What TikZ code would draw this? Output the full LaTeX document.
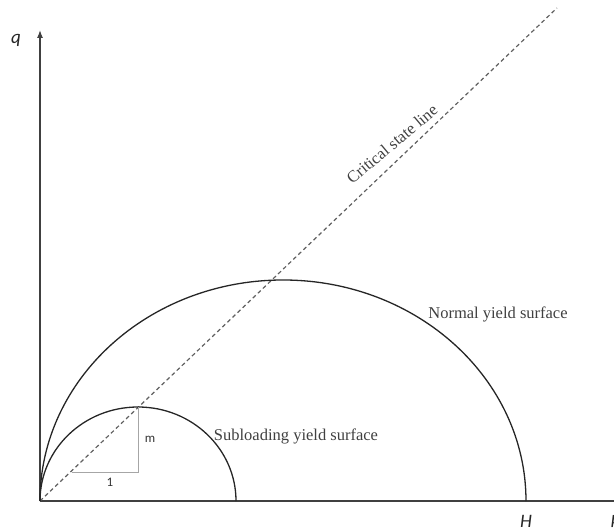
\documentclass[tikz,border=0pt]{standalone}
\usepackage{fontspec}
\setmainfont{Liberation Serif}
\newfontfamily\labelfont{Carlito}
\usetikzlibrary{arrows.meta}
\definecolor{AxisGray}{HTML}{404040}
\definecolor{SlopeGray}{HTML}{A6A6A6}
\tikzset{
  axisline/.style={AxisGray,line width=1.2pt},
  surface/.style={black!85,line width=1.3pt},
  csl/.style={gray!75!black,line width=1.2pt,dash pattern=on 4pt off 3pt},
  curvelabel/.style={font=\fontsize{16.5}{18}\selectfont,text=black!75},
  axislabel/.style={font=\labelfont\itshape\fontsize{19}{21}\selectfont,text=black!85}
}

\begin{document}
\begin{tikzpicture}[x=1pt,y=1pt]
  \useasboundingbox (-40,-30) rectangle (574,501);

  % axes
  \coordinate (O) at (0,0);
  \coordinate (qtop) at (0,471);
  \coordinate (pend) at (580,0);
  \draw[axisline,-{Latex[length=8pt,width=6pt]}] (O) -- (qtop);
  \draw[axisline] (O) -- (pend);
  \node[axislabel] (qlabel) at (-24,461) {q};
  \node[axislabel] (Hlabel) at (486,-20) {H};
  \node[axislabel,anchor=west,inner sep=0pt] (plabel) at (571,-20) {p};

  % critical state line
  \coordinate (cslend) at (517,493);
  \draw[csl] (O) -- (cslend);
  \node[curvelabel,rotate=40] (csllabel) at (352,357) {Critical state line};

  % yield surfaces
  \draw[surface] (O) arc[start angle=180,end angle=0,x radius=243,y radius=221];
  \draw[surface] (O) arc[start angle=180,end angle=0,x radius=98,y radius=94];
  \node[curvelabel] (normal) at (458,187) {Normal yield surface};
  \node[curvelabel] (subload) at (256,65) {Subloading yield surface};

  % slope triangle
  \coordinate (tri1) at (32,29);
  \coordinate (tri2) at (98,29);
  \coordinate (tri3) at (98,94);
  \draw[SlopeGray,line width=1pt] (tri1) -- (tri2) -- (tri3);
  \node[font=\labelfont\fontsize{13}{15}\selectfont,text=black!80] (one) at (70,19) {1};
  \node[font=\labelfont\fontsize{13}{15}\selectfont,text=black!80] (mlabel) at (110,62) {m};
\end{tikzpicture}
\end{document}
